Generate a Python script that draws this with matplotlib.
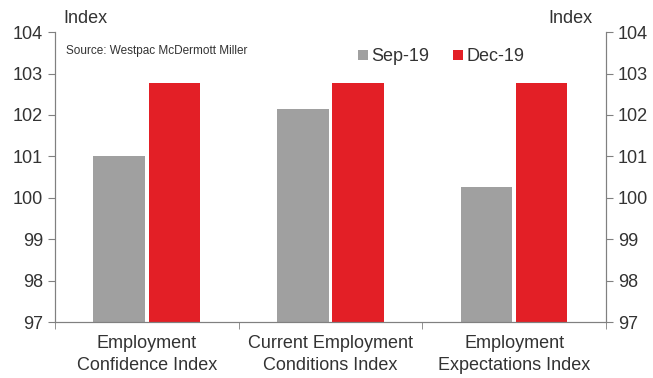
import numpy as np
import matplotlib.pyplot as plt

plt.rcParams['font.family'] = ['Liberation Sans', 'DejaVu Sans']

categories = ['Employment\nConfidence Index', 'Current Employment\nConditions Index',
              'Employment\nExpectations Index']
sep19 = [101.0, 102.14, 100.26]
dec19 = [102.77, 102.77, 102.76]
yticks = [97, 98, 99, 100, 101, 102, 103, 104]

grey = '#a0a0a0'
red = '#e31f26'
axis_col = '#808080'
txt_col = '#333333'

fig = plt.figure(figsize=(6.53, 3.78), dpi=100)
ax = fig.add_axes([0.084, 0.148, 0.844, 0.767])

x = np.arange(len(categories))
w = 0.28
off = 0.15
ax.bar(x - off, [v - 97 for v in sep19], w, bottom=97, color=grey, label='Sep-19')
ax.bar(x + off, [v - 97 for v in dec19], w, bottom=97, color=red, label='Dec-19')

ax.set_xlim(-0.5, 2.5)
ax.set_ylim(97, 104)
ax.set_yticks(yticks)
ax.set_xticks(x)
ax.set_xticklabels(categories, fontsize=13, color=txt_col, linespacing=1.4)
ax.set_xticks(np.arange(-0.5, 3.0, 1.0), minor=True)
ax.tick_params(axis='x', which='major', length=0, pad=9)
ax.tick_params(axis='x', which='minor', length=5, color=axis_col, direction='out')
ax.tick_params(axis='y', length=5, color=axis_col, labelsize=13, labelcolor=txt_col)

for s in ['left', 'right', 'bottom']:
    ax.spines[s].set_color(axis_col)
ax.spines['top'].set_visible(False)

ax2 = ax.twinx()
ax2.set_ylim(97, 104)
ax2.set_yticks(yticks)
ax2.tick_params(axis='y', length=5, color=axis_col, labelsize=13, labelcolor=txt_col)
for s in ['left', 'right', 'bottom']:
    ax2.spines[s].set_color(axis_col)
ax2.spines['top'].set_visible(False)

fig.text(0.097, 0.94, 'Index', fontsize=13, color=txt_col)
fig.text(0.908, 0.94, 'Index', fontsize=13, color=txt_col, ha='right')
ax.text(0.02, 0.955, 'Source: Westpac McDermott Miller', transform=ax.transAxes,
        fontsize=8.5, color=txt_col, va='top')

ax.legend(loc='upper left', bbox_to_anchor=(0.52, 1.0), ncol=2, frameon=False,
          fontsize=13, handlelength=0.55, handleheight=0.55, handletextpad=0.2,
          columnspacing=1.3, labelcolor=txt_col)

fig.savefig('out.png', dpi=100)
